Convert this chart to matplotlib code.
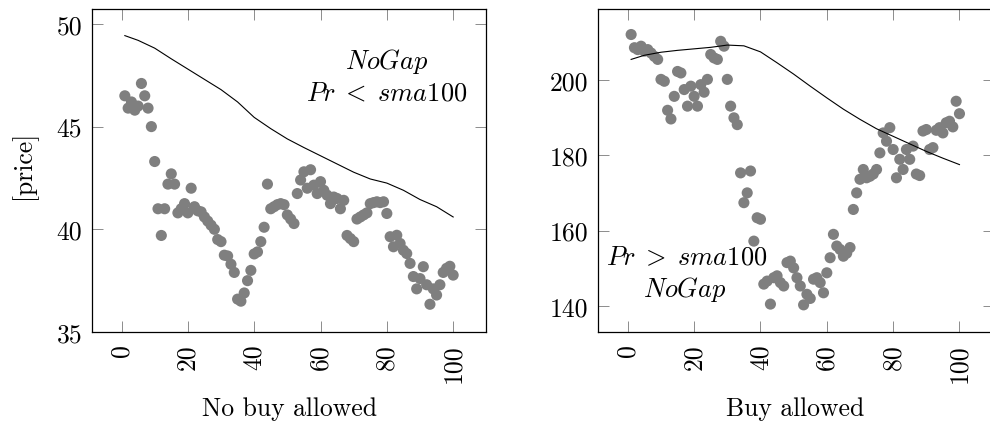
import matplotlib
matplotlib.use("Agg")
import matplotlib.pyplot as plt
import numpy as np

plt.rcParams['font.family'] = 'serif'
plt.rcParams['font.serif'] = ['cmr10', 'DejaVu Serif']
plt.rcParams['mathtext.fontset'] = 'cm'
plt.rcParams['axes.formatter.use_mathtext'] = True

# ---------------- data ----------------
days = list(range(1, 101))

left_price = [
    46.5, 45.9, 46.2, 45.8, 46.0, 47.1, 46.5, 45.9, 45.0, 43.3,
    41.0, 39.7, 41.0, 42.2, 42.7, 42.2, 40.8, 41.0, 41.25, 40.8,
    42.0, 41.1, 40.9, 40.85, 40.6, 40.4, 40.2, 40.0, 39.5, 39.4,
    38.74, 38.7, 38.3, 37.9, 36.6, 36.5, 36.9, 37.5, 38.0, 38.8,
    38.9, 39.4, 40.1, 42.2, 41.0, 41.1, 41.2, 41.25, 41.2, 40.7,
    40.5, 40.28, 41.74, 42.4, 42.8, 42.0, 42.9, 42.15, 41.74, 42.32,
    41.9, 41.66, 41.25, 41.57, 41.5, 41.0, 41.41, 39.7, 39.55, 39.4,
    40.5, 40.6, 40.7, 40.8, 41.25, 41.3, 41.34, 41.3, 41.34, 40.77,
    39.64, 39.15, 39.71, 39.31, 38.98, 38.82, 38.34, 37.7, 37.1, 37.6,
    38.18, 37.3, 36.35, 37.1, 36.8, 37.3, 37.9, 38.1, 38.2, 37.77,
]

right_price = [
    212.0, 208.5, 208.0, 208.9, 207.6, 208.0, 207.1, 206.2, 205.4, 200.1,
    199.6, 191.9, 189.6, 195.6, 202.2, 201.8, 197.4, 193.0, 198.3, 195.6,
    193.0, 198.7, 196.7, 200.1, 206.7, 205.8, 205.4, 210.2, 208.9, 200.1,
    193.0, 189.9, 188.1, 175.3, 167.4, 170.0, 175.8, 157.2, 163.4, 163.0,
    145.8, 146.6, 140.5, 147.5, 148.0, 146.2, 145.3, 151.5, 151.9, 150.1,
    147.5, 145.3, 140.3, 143.1, 142.0, 147.1, 147.5, 146.2, 143.5, 148.8,
    152.8, 159.0, 155.9, 155.0, 153.2, 154.0, 155.5, 165.6, 170.0, 173.6,
    176.2, 174.0, 174.4, 175.0, 176.2, 180.6, 185.9, 183.7, 187.3, 181.5,
    174.0, 178.9, 176.2, 181.5, 178.9, 182.4, 175.0, 174.6, 186.4, 186.8,
    181.5, 182.0, 186.6, 187.3, 185.9, 188.6, 189.0, 187.5, 194.3, 191.0,
]

sma_days = [1, 5, 10, 15, 20, 25, 30, 35, 40, 45, 50, 55, 60, 65, 70, 75, 80, 85, 90, 95, 100]
left_sma = [49.43, 49.2, 48.82, 48.3, 47.8, 47.3, 46.8, 46.2, 45.45, 44.9, 44.4,
            43.98, 43.58, 43.18, 42.78, 42.45, 42.25, 41.9, 41.45, 41.1, 40.6]
right_sma = [205.4, 206.5, 207.3, 207.8, 208.2, 208.6, 209.2, 209.0, 207.4, 204.5, 201.5,
             198.3, 195.2, 192.2, 189.5, 187.0, 185.0, 183.0, 181.0, 179.2, 177.5]

x_ticks = [0, 20, 40, 60, 80, 100]
left_yticks = [35, 40, 45, 50]
right_yticks = [140, 160, 180, 200]

# ---------------- figure ----------------
W, H = 990, 427
fig = plt.figure(figsize=(W / 100, H / 100), dpi=100)

axb = 1 - 333 / H
axh = (333 - 9.5) / H
ax1 = fig.add_axes([92 / W, axb, 394 / W, axh])
ax2 = fig.add_axes([598.3 / W, axb, 396 / W, axh])

gray = '#7f7f7f'
for ax, price, sma in ((ax1, left_price, left_sma), (ax2, right_price, right_sma)):
    ax.scatter(days, price, s=64, color=gray, edgecolors='none', zorder=2)
    ax.plot(sma_days, sma, color='black', lw=0.8, zorder=3)
    ax.set_xticks(x_ticks)
    ax.set_xticklabels([str(t) for t in x_ticks], rotation=90)
    ax.tick_params(direction='in', length=7.6, width=0.7, color='#8c8c8c',
                   top=True, right=True, labelsize=18.5)
    ax.tick_params(axis='x', pad=8)
    ax.tick_params(axis='y', pad=7)
    for sp in ax.spines.values():
        sp.set_linewidth(0.9)
        sp.set_color('black')

ax1.set_xlim(-8.9, 109.9)
ax2.set_xlim(-8.9, 109.9 + 2 / 3.317)
ax1.set_ylim(35.0, 50.75)
ax1.set_yticks(left_yticks)
ax1.set_yticklabels([str(t) for t in left_yticks])
ax2.set_ylim(133.1, 218.9)
ax2.set_yticks(right_yticks)
ax2.set_yticklabels([str(t) for t in right_yticks])

ax1.set_xlabel('No buy allowed', fontsize=18.5)
ax2.set_xlabel('Buy allowed', fontsize=18.5)
ax1.xaxis.set_label_coords(0.5, -0.20)
ax2.xaxis.set_label_coords(197 / 396, -0.20)
ax1.set_ylabel('[price]', fontsize=18.5)
ax1.yaxis.set_label_coords(-0.14, 0.52)

fs_ann = 19
ax1.text(80, 48.2, r'$NoGap$', ha='center', va='center', fontsize=fs_ann)
ax1.text(80, 46.65, r'$Pr\;<\;sma100$', ha='center', va='center', fontsize=fs_ann)
ax2.text(17.8, 152.9, r'$Pr\;>\;sma100$', ha='center', va='center', fontsize=fs_ann)
ax2.text(17.2, 144.6, r'$NoGap$', ha='center', va='center', fontsize=fs_ann)

fig.savefig('out.png', dpi=100)
